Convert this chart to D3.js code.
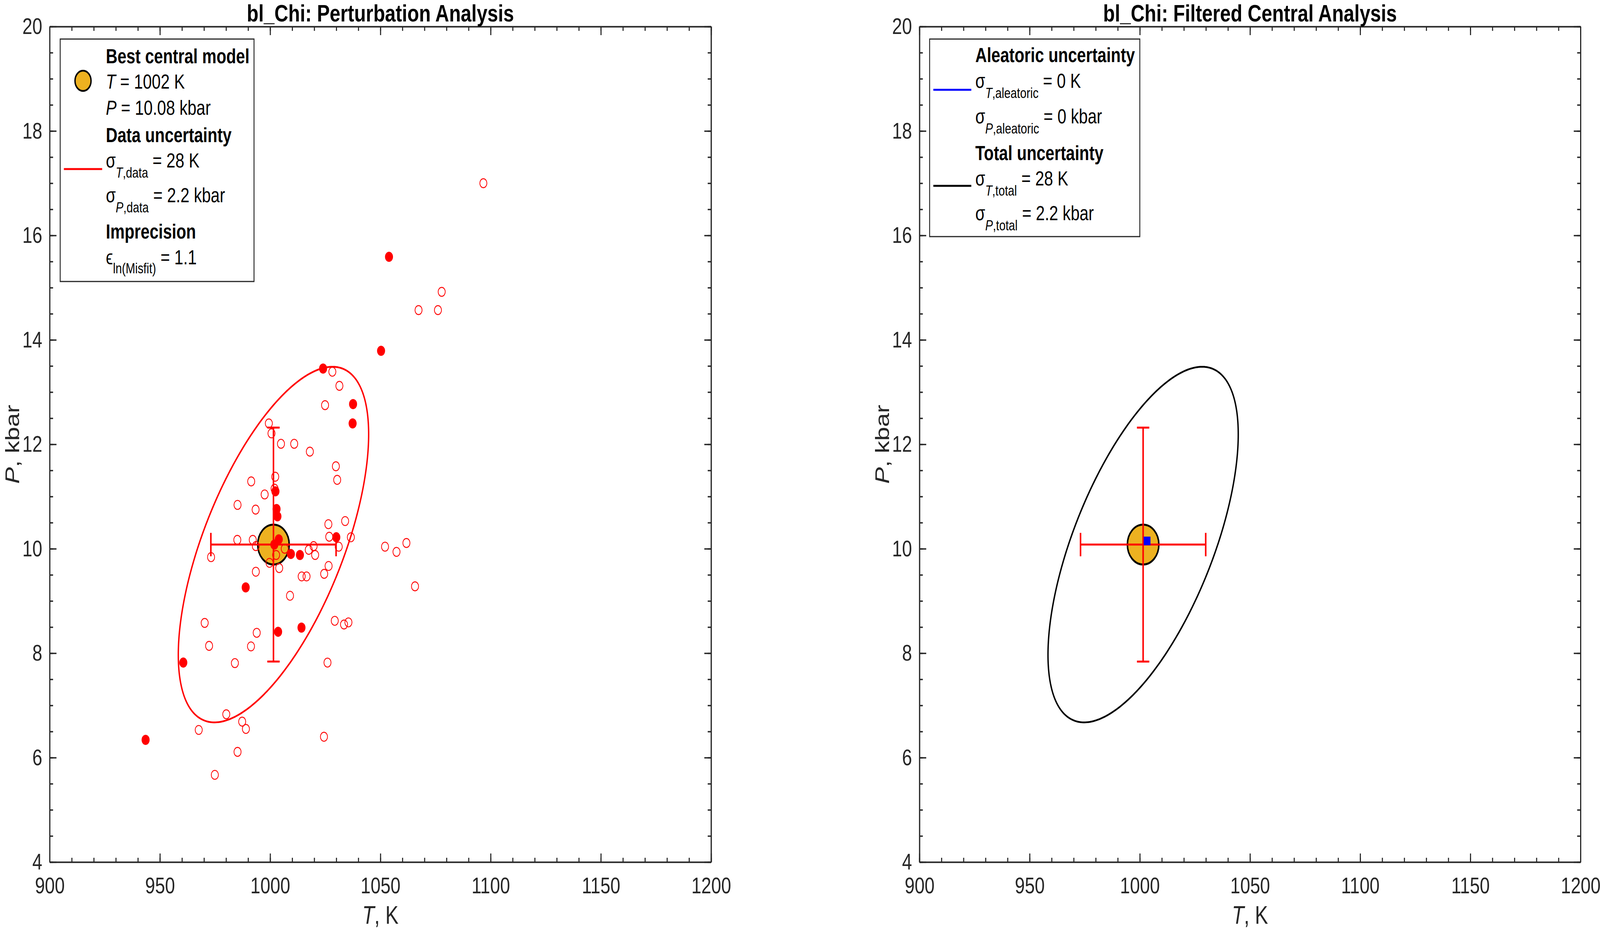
<!DOCTYPE html>
<html>
<head>
<meta charset="utf-8">
<script src="https://cdn.jsdelivr.net/npm/d3@7"></script>
<style>
  html, body { margin: 0; padding: 0; background: #fff; overflow: hidden; }
  #chart { display: block; width: 100vw; height: 100vh; }
  text { font-family: "Liberation Sans", Arial, Helvetica, sans-serif; }
</style>
</head>
<body>
<svg id="chart" viewBox="0 0 5184 2382" preserveAspectRatio="none"></svg>
<script>
// perturbed solutions
var openT = [1096.7, 1077.8, 1067.3, 1076.1, 1028.2, 1031.4, 1024.9, 999.4, 1000.6, 1004.9,
  1010.9, 1018.0, 1029.8, 1030.4, 1002.3, 991.4, 1002.0, 997.5, 985.2, 993.4,
  1026.4, 1034.0, 1026.8, 1036.6, 1031.1, 985.1, 992.1, 993.5, 1006.6, 1002.7,
  999.7, 1019.7, 1017.5, 1020.4, 1004.1, 993.5, 1026.5, 1024.5, 1014.3, 1016.5,
  973.2, 1052.1, 1057.3, 1061.8, 1065.7, 1009.0, 970.3, 1029.3, 1033.5, 1035.5,
  993.9, 972.3, 991.3, 984.0, 1026.0, 980.1, 987.3, 989.0, 967.6, 1024.4,
  985.2, 974.9];
var openP = [17.00, 14.92, 14.57, 14.57, 13.39, 13.12, 12.75, 12.40, 12.21, 12.01,
  12.01, 11.86, 11.58, 11.32, 11.38, 11.29, 11.15, 11.04, 10.84, 10.75,
  10.47, 10.53, 10.23, 10.22, 10.04, 10.17, 10.17, 10.05, 10.00, 9.88,
  9.73, 10.05, 9.98, 9.88, 9.63, 9.56, 9.67, 9.52, 9.47, 9.47,
  9.84, 10.04, 9.94, 10.11, 9.28, 9.10, 8.58, 8.62, 8.55, 8.59,
  8.39, 8.14, 8.13, 7.81, 7.82, 6.83, 6.69, 6.55, 6.53, 6.40,
  6.11, 5.67];
var filledT = [1053.9, 1050.3, 1024.0, 1037.6, 1037.4, 1002.4, 1002.9, 1003.3, 1030.0, 1003.9,
  1001.9, 1009.4, 1013.5, 988.9, 1003.6, 1014.2, 960.6, 943.5];
var filledP = [15.59, 13.79, 13.45, 12.77, 12.40, 11.10, 10.76, 10.62, 10.22, 10.18,
  10.08, 9.90, 9.88, 9.26, 8.41, 8.49, 7.82, 6.34];

// best central model and its uncertainty
var bestT = 1001.5, bestP = 10.08;
var errT = 28.4, errP = 2.24;
var ellScale = 1.52, ellRho = 0.62;
var aleaT = 1003.3, aleaP = 10.15;

var xMajor = [900, 950, 1000, 1050, 1100, 1150, 1200];
var yMajor = [4, 6, 8, 10, 12, 14, 16, 18, 20];
var titles = ["bl_Chi: Perturbation Analysis", "bl_Chi: Filtered Central Analysis"];

var svg = d3.select("#chart");
var axisColor = "#262626";
var top0 = 68, bottom0 = 2208;
var panels = [{ x0: 161, x1: 2304 }, { x0: 2979, x1: 5121 }];

function drawFrame(p, title) {
  var x = d3.scaleLinear().domain([900, 1200]).range([p.x0, p.x1]);
  var y = d3.scaleLinear().domain([4, 20]).range([bottom0, top0]);
  var xMinor = d3.range(900, 1201, 10), yMinor = d3.range(4, 20.01, 0.5);
  var g = svg.append("g").attr("color", axisColor);

  function put(axis, tx, ty, vals, size, labels) {
    axis.tickValues(vals).tickSizeInner(-size).tickSizeOuter(0);
    if (!labels) axis.tickFormat("");
    var a = g.append("g").attr("transform", "translate(" + tx + "," + ty + ")").call(axis);
    a.selectAll("path, line").attr("stroke-width", 3.5);
    a.selectAll("text").attr("font-family", "Liberation Sans, Arial, sans-serif")
      .attr("font-size", 58).attr("fill", axisColor);
    return a;
  }
  put(d3.axisBottom(x).tickPadding(39).tickFormat(d3.format("d")), 0, bottom0, xMajor, 22, true);
  put(d3.axisBottom(x), 0, bottom0, xMinor, 11, false);
  put(d3.axisTop(x), 0, top0, xMajor, 22, false);
  put(d3.axisTop(x), 0, top0, xMinor, 11, false);
  put(d3.axisLeft(y).tickPadding(24).tickFormat(d3.format("d")), p.x0, 0, yMajor, 22, true);
  put(d3.axisLeft(y), p.x0, 0, yMinor, 11, false);
  put(d3.axisRight(y), p.x1, 0, yMajor, 22, false);
  put(d3.axisRight(y), p.x1, 0, yMinor, 11, false);

  svg.append("text").attr("x", (p.x0 + p.x1) / 2).attr("y", 55)
    .attr("text-anchor", "middle").attr("font-size", 62).attr("font-weight", "bold")
    .text(title);

  var xl = svg.append("text").attr("x", (p.x0 + p.x1) / 2).attr("y", 2366)
    .attr("text-anchor", "middle").attr("font-size", 64).attr("fill", axisColor);
  xl.append("tspan").attr("font-style", "italic").text("T");
  xl.append("tspan").text(", K");

  var yl = svg.append("text")
    .attr("transform", "translate(" + (p.x0 - 99) + "," + ((top0 + bottom0) / 2) + ") rotate(-90)")
    .attr("text-anchor", "middle").attr("font-size", 64).attr("fill", axisColor);
  yl.append("tspan").attr("font-style", "italic").text("P");
  yl.append("tspan").text(", kbar");

  return { x: x, y: y };
}

function ellipse(sc, color) {
  var a = errT * ellScale, b = errP * ellScale, s = Math.sqrt(1 - ellRho * ellRho);
  var pts = d3.range(0, 2 * Math.PI, Math.PI / 180).map(function (t) {
    return [sc.x(bestT + a * Math.cos(t)), sc.y(bestP + b * (ellRho * Math.cos(t) + s * Math.sin(t)))];
  });
  svg.append("path").attr("d", d3.line().curve(d3.curveLinearClosed)(pts))
    .attr("fill", "none").attr("stroke", color).attr("stroke-width", 4.5);
}

function bestModel(sc) {
  svg.append("circle").attr("cx", sc.x(bestT)).attr("cy", sc.y(bestP)).attr("r", 51)
    .attr("fill", "#EDB120").attr("stroke", "#000").attr("stroke-width", 5);
  var cx = sc.x(bestT), cy = sc.y(bestP);
  var xl = sc.x(bestT - errT), xr = sc.x(bestT + errT);
  var yt = sc.y(bestP + errP), yb = sc.y(bestP - errP);
  var segs = [
    [xl, cy, xr, cy], [xl, cy - 30, xl, cy + 30], [xr, cy - 30, xr, cy + 30],
    [cx, yt, cx, yb], [cx - 20, yt, cx + 20, yt], [cx - 20, yb, cx + 20, yb]
  ];
  svg.append("g").selectAll("line").data(segs).enter().append("line")
    .attr("x1", function (d) { return d[0]; }).attr("y1", function (d) { return d[1]; })
    .attr("x2", function (d) { return d[2]; }).attr("y2", function (d) { return d[3]; })
    .attr("stroke", "#FF0000").attr("stroke-width", 5);
}

// rich legend line: parts = [{t, sub, it, b}]
function richText(g, x, y, parts, subDy) {
  var t = g.append("text").attr("x", x).attr("y", y).attr("font-size", 52).attr("fill", "#000");
  var inSub = false;
  parts.forEach(function (p) {
    var s = t.append("tspan").text(p.t);
    var want = !!p.sub;
    if (want !== inSub) { s.attr("dy", want ? subDy : -subDy); inSub = want; }
    if (want) s.attr("font-size", 37);
    if (p.it) s.attr("font-style", "italic");
    if (p.b) s.attr("font-weight", "bold");
  });
}

// left panel
var L = drawFrame(panels[0], titles[0]);
ellipse(L, "#FF0000");
bestModel(L);
svg.append("g").selectAll("circle").data(d3.range(openT.length)).enter().append("circle")
  .attr("cx", function (i) { return L.x(openT[i]); })
  .attr("cy", function (i) { return L.y(openP[i]); })
  .attr("r", 11.5).attr("fill", "none").attr("stroke", "#FF0000").attr("stroke-width", 2.4);
svg.append("g").selectAll("circle").data(d3.range(filledT.length)).enter().append("circle")
  .attr("cx", function (i) { return L.x(filledT[i]); })
  .attr("cy", function (i) { return L.y(filledP[i]); })
  .attr("r", 13).attr("fill", "#FF0000");

// right panel
var R = drawFrame(panels[1], titles[1]);
ellipse(R, "#000000");
bestModel(R);
svg.append("rect").attr("x", R.x(aleaT) - 11).attr("y", R.y(aleaP) - 11)
  .attr("width", 22).attr("height", 22).attr("fill", "#0000FF");

// legends
var lg = svg.append("g");
lg.append("rect").attr("x", 195).attr("y", 100).attr("width", 628).attr("height", 621)
  .attr("fill", "#fff").attr("stroke", axisColor).attr("stroke-width", 3);
lg.append("circle").attr("cx", 269).attr("cy", 207).attr("r", 26)
  .attr("fill", "#EDB120").attr("stroke", "#000").attr("stroke-width", 4.5);
lg.append("line").attr("x1", 207).attr("x2", 331).attr("y1", 433).attr("y2", 433)
  .attr("stroke", "#FF0000").attr("stroke-width", 5);
richText(lg, 343, 162, [{ t: "Best central model", b: true }], 26);
richText(lg, 343, 227, [{ t: "T", it: true }, { t: " = 1002 K" }], 26);
richText(lg, 343, 294, [{ t: "P", it: true }, { t: " = 10.08 kbar" }], 26);
richText(lg, 343, 364, [{ t: "Data uncertainty", b: true }], 26);
richText(lg, 343, 429, [{ t: "σ" }, { t: "T", sub: true, it: true }, { t: ",data", sub: true }, { t: "  = 28 K" }], 26);
richText(lg, 343, 518, [{ t: "σ" }, { t: "P", sub: true, it: true }, { t: ",data", sub: true }, { t: "  = 2.2 kbar" }], 26);
richText(lg, 343, 611, [{ t: "Imprecision", b: true }], 26);
richText(lg, 343, 677, [{ t: "ϵ" }, { t: "ln(Misfit)", sub: true }, { t: "  = 1.1" }], 23);

var rg = svg.append("g");
rg.append("rect").attr("x", 3012).attr("y", 100).attr("width", 681).attr("height", 506)
  .attr("fill", "#fff").attr("stroke", axisColor).attr("stroke-width", 3);
rg.append("line").attr("x1", 3024).attr("x2", 3147).attr("y1", 230).attr("y2", 230)
  .attr("stroke", "#0000FF").attr("stroke-width", 5);
rg.append("line").attr("x1", 3024).attr("x2", 3147).attr("y1", 476).attr("y2", 476)
  .attr("stroke", "#000").attr("stroke-width", 5);
richText(rg, 3160, 159, [{ t: "Aleatoric uncertainty", b: true }], 26);
richText(rg, 3160, 225, [{ t: "σ" }, { t: "T", sub: true, it: true }, { t: ",aleatoric", sub: true }, { t: "  = 0 K" }], 26);
richText(rg, 3160, 316, [{ t: "σ" }, { t: "P", sub: true, it: true }, { t: ",aleatoric", sub: true }, { t: "  = 0 kbar" }], 26);
richText(rg, 3160, 410, [{ t: "Total uncertainty", b: true }], 26);
richText(rg, 3160, 475, [{ t: "σ" }, { t: "T", sub: true, it: true }, { t: ",total", sub: true }, { t: "  = 28 K" }], 26);
richText(rg, 3160, 564, [{ t: "σ" }, { t: "P", sub: true, it: true }, { t: ",total", sub: true }, { t: "  = 2.2 kbar" }], 26);
</script>
</body>
</html>
